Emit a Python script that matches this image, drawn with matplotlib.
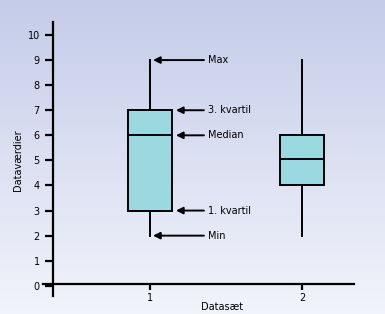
import numpy as np
import matplotlib.pyplot as plt
from matplotlib.colors import LinearSegmentedColormap

datasets = [1, 2]
mins = [2, 2]
q1s = [3, 4]
medians = [6, 5.07]
q3s = [7, 6]
maxs = [9, 9]
yticks = list(range(0, 11))
labels_box1 = ['Max', '3. kvartil', 'Median', '1. kvartil', 'Min']

fig = plt.figure(figsize=(3.85, 3.14), dpi=100)

# baggrund med gradient
bg = fig.add_axes([0, 0, 1, 1], zorder=-1)
grad = LinearSegmentedColormap.from_list('bg', ['#c4cce9', '#f2f4fb'])
bg.imshow(np.linspace(0, 1, 256).reshape(-1, 1), aspect='auto', cmap=grad, extent=[0, 1, 0, 1])
bg.axis('off')

ax = fig.add_axes([0, 0, 1, 1])
ax.patch.set_visible(False)
ax.set_xlim(0.0132, 2.546)
ax.set_ylim(-1.124, 11.395)

stats = []
for d, lo, a, m, b, hi in zip(datasets, mins, q1s, medians, q3s, maxs):
    stats.append(dict(whislo=lo, q1=a, med=m, q3=b, whishi=hi, fliers=[], label=str(d)))

ax.bxp(stats, positions=datasets, widths=0.283, patch_artist=True, showcaps=False,
       boxprops=dict(facecolor='#9bd9e0', edgecolor='black', linewidth=1.4),
       medianprops=dict(color='black', linewidth=1.4),
       whiskerprops=dict(color='black', linewidth=1.4))

# pile med forklaringer for datasæt 1
vals1 = [maxs[0], q3s[0], medians[0], q1s[0], mins[0]]
for txt, v in zip(labels_box1, vals1):
    head = 1.02 if v in (maxs[0], mins[0]) else 1.171
    ax.annotate('', xy=(head, v), xytext=(1.355, v),
                arrowprops=dict(arrowstyle='-|>', color='black', lw=1.4,
                                mutation_scale=10, shrinkA=0, shrinkB=0))
    ax.text(1.38, v, txt, fontsize=7, va='center', ha='left')

# akser
for s in ['top', 'right']:
    ax.spines[s].set_visible(False)
ax.spines['left'].set_position(('data', 0.362))
ax.spines['left'].set_bounds(-0.4, 10.5)
ax.spines['bottom'].set_position(('data', 0.08))
ax.spines['bottom'].set_bounds(0.296, 2.34)
ax.spines['left'].set_linewidth(1.6)
ax.spines['bottom'].set_linewidth(1.6)

ax.set_yticks(yticks)
ax.set_xticks(datasets)
ax.set_xticklabels([str(d) for d in datasets])
ax.tick_params(axis='y', direction='out', length=6, width=1.6, pad=3.5, labelsize=7)
ax.tick_params(axis='x', direction='out', length=4.5, width=1.6, pad=2, labelsize=7)

ax.set_ylabel('Dataværdier', fontsize=7)
ax.yaxis.set_label_coords(0.06, 0.49)
ax.set_xlabel('Datasæt', fontsize=7)
ax.xaxis.set_label_coords(0.577, 0.038)

plt.savefig('out.png', dpi=100)
